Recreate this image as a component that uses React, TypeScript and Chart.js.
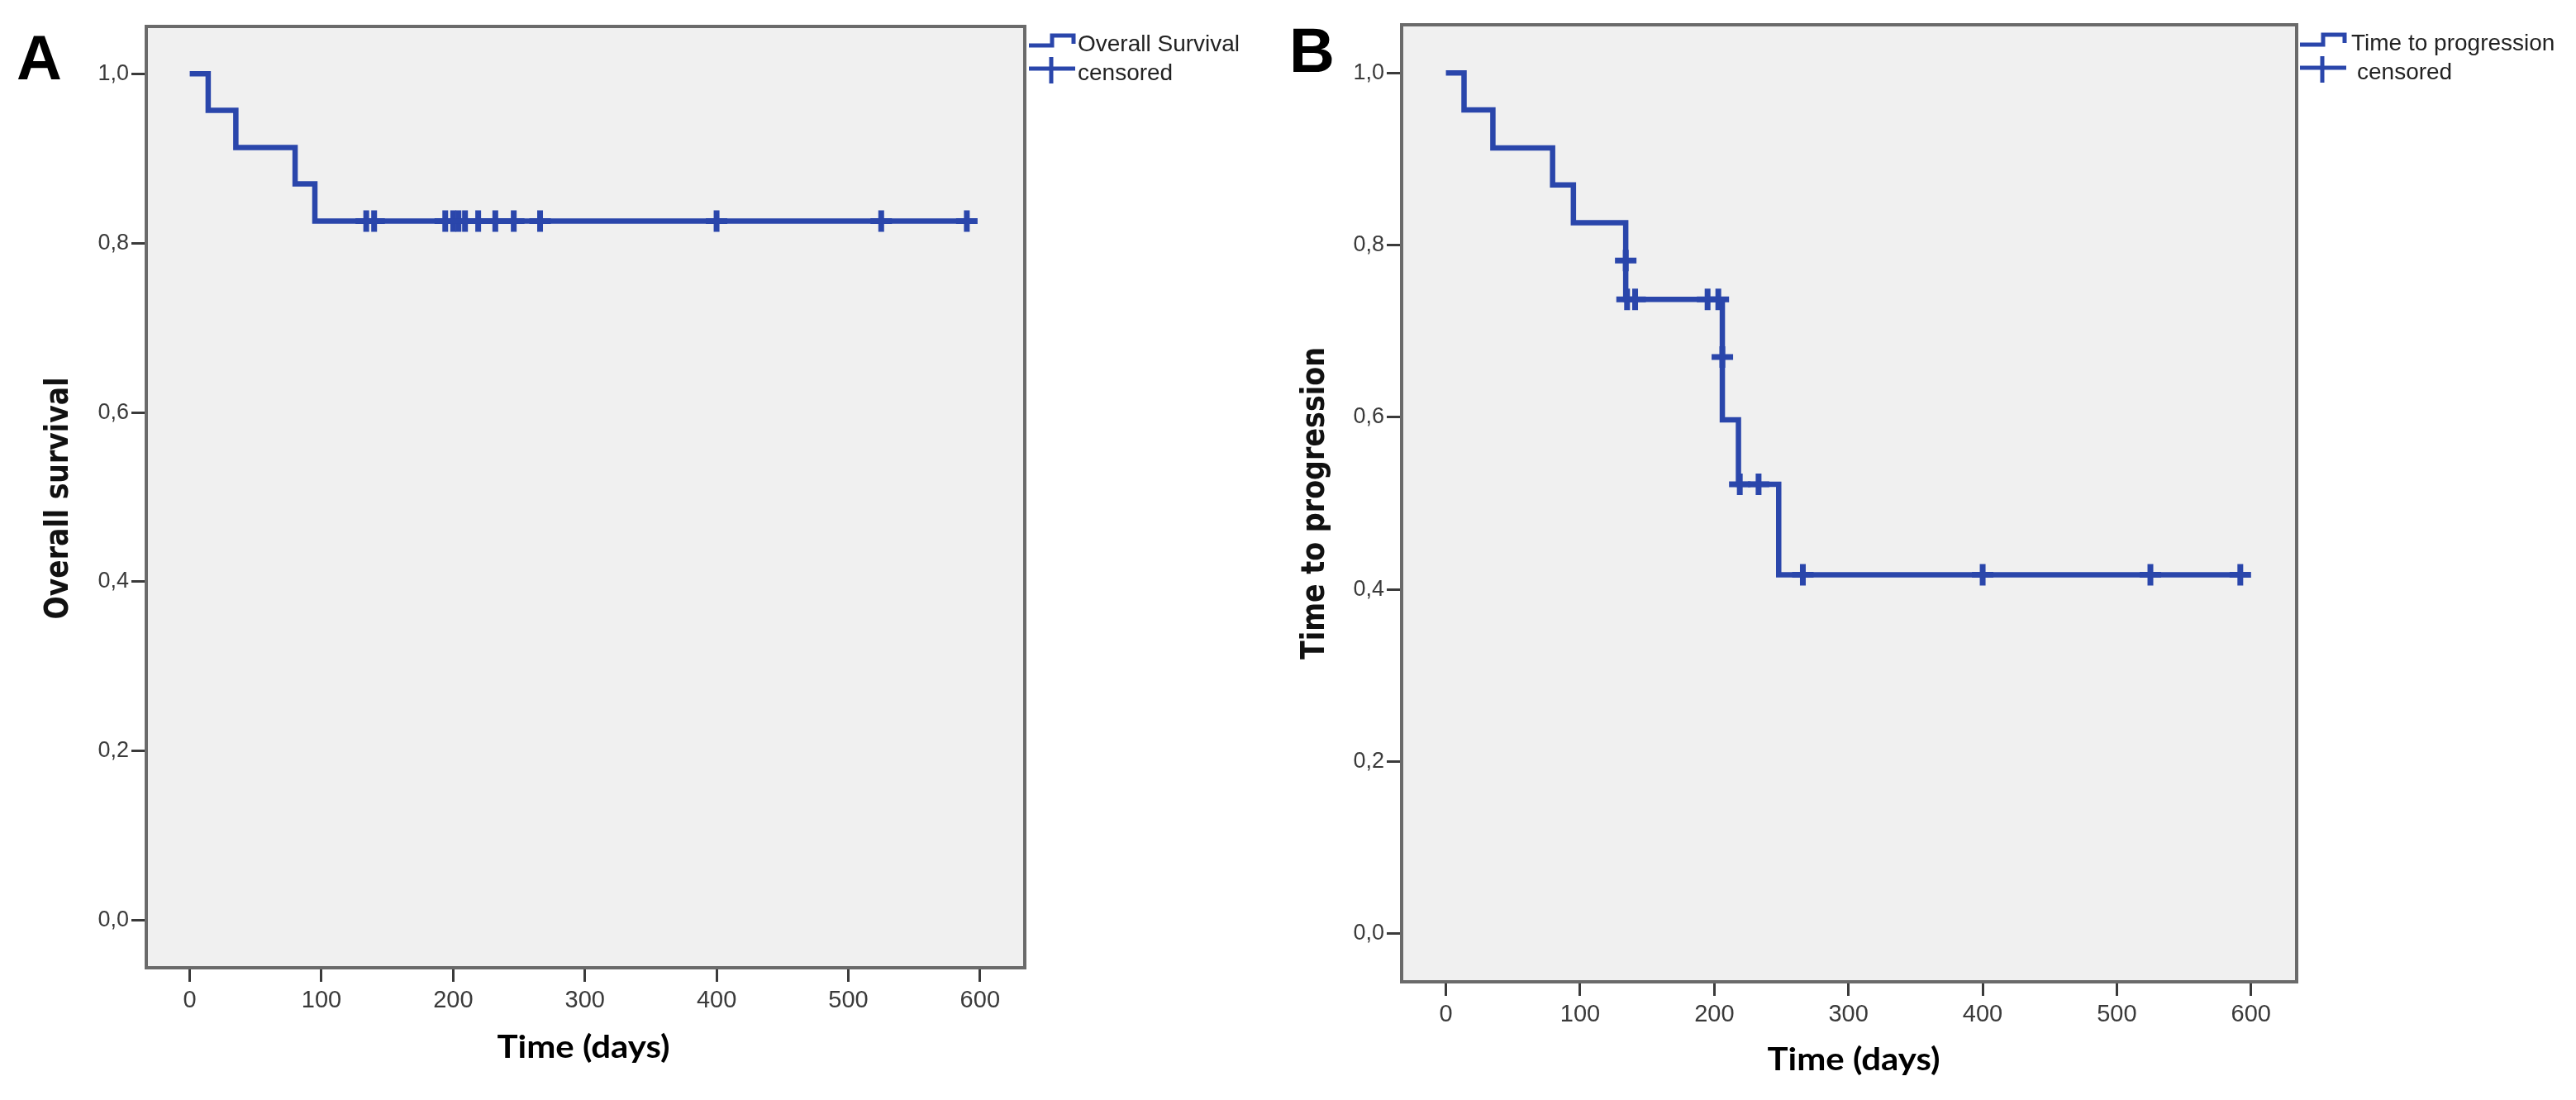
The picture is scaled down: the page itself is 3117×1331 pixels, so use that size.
import React, { useEffect, useRef } from 'react';
import { Chart, registerables } from 'chart.js';

Chart.register(...registerables);

// ---- shared axis definitions ----
const xTicks = [0, 100, 200, 300, 400, 500, 600];
const yTicks = [0, 0.2, 0.4, 0.6, 0.8, 1.0];
const yTickLabels = ['0,0', '0,2', '0,4', '0,6', '0,8', '1,0'];

// ---- Panel A: Overall survival ----
const osTimes = [0, 14, 35, 80, 95, 590];
const osSurvival = [1.0, 0.957, 0.913, 0.87, 0.826, 0.826];
const osCensoredTimes = [134, 140, 194, 200, 204, 209, 219, 232, 246, 266, 400, 525, 590];
const osCensoredSurvival = [0.826, 0.826, 0.826, 0.826, 0.826, 0.826, 0.826, 0.826, 0.826, 0.826, 0.826, 0.826, 0.826];

// ---- Panel B: Time to progression ----
const ttpTimes = [0, 13.5, 35, 79.5, 95, 134, 134, 206, 206, 218, 248, 592];
const ttpSurvival = [1.0, 0.957, 0.913, 0.87, 0.826, 0.782, 0.737, 0.67, 0.597, 0.522, 0.417, 0.417];
const ttpCensoredTimes = [134, 135, 141, 195, 203, 206, 219, 233, 266, 400, 525, 592];
const ttpCensoredSurvival = [0.782, 0.737, 0.737, 0.737, 0.737, 0.67, 0.522, 0.522, 0.417, 0.417, 0.417, 0.417];

const BLUE = '#2a46ab';
const W = 3117;
const H = 1331;

type PanelProps = {
  offsetX: number;
  width: number;
  area: { left: number; right: number; top: number; bottom: number };
  letter: string;
  letterX: number;
  letterBase: number;
  yTitle: string;
  yTitleX: number;
  yTitleY: number;
  yTitleLen: number;
  xTitle: string;
  xTitleX: number;
  xTitleBase: number;
  legendX: number;
  legendText1: string;
  legendText1X: number;
  legendText2X: number;
  legendTop: number;
  times: number[];
  surv: number[];
  cTimes: number[];
  cSurv: number[];
};

function Panel(p: PanelProps) {
  const ref = useRef<HTMLCanvasElement | null>(null);
  useEffect(() => {
    if (!ref.current) return;
    const a = p.area;
    const deco = {
      id: 'deco',
      beforeDraw(chart: any) {
        const { ctx, chartArea } = chart;
        ctx.save();
        ctx.fillStyle = '#ffffff';
        ctx.fillRect(0, 0, chart.width, chart.height);
        ctx.fillStyle = '#f0f0f0';
        ctx.fillRect(chartArea.left, chartArea.top, chartArea.right - chartArea.left, chartArea.bottom - chartArea.top);
        ctx.restore();
      },
      afterDraw(chart: any) {
        const { ctx, chartArea } = chart;
        ctx.save();
        // frame
        ctx.strokeStyle = '#6a6a6a';
        ctx.lineWidth = 4;
        ctx.strokeRect(chartArea.left, chartArea.top, chartArea.right - chartArea.left, chartArea.bottom - chartArea.top);

        // panel letter
        ctx.fillStyle = '#000000';
        ctx.font = 'bold 76px "Liberation Sans", Arial, sans-serif';
        ctx.textAlign = 'left';
        ctx.textBaseline = 'alphabetic';
        ctx.fillText(p.letter, p.letterX, p.letterBase);

        // y title (rotated, stretched)
        ctx.save();
        ctx.font = 'bold 33px "DejaVu Sans", Verdana, sans-serif';
        const wy = ctx.measureText(p.yTitle).width;
        ctx.translate(p.yTitleX, p.yTitleY);
        ctx.rotate(-Math.PI / 2);
        ctx.scale(p.yTitleLen / wy, 1.2);
        ctx.textAlign = 'center';
        ctx.textBaseline = 'middle';
        ctx.fillStyle = '#111111';
        ctx.fillText(p.yTitle, 0, 0);
        ctx.restore();

        // x title
        ctx.save();
        ctx.font = 'bold 38px Lato, "Liberation Sans", sans-serif';
        const wx = ctx.measureText(p.xTitle).width;
        ctx.translate(p.xTitleX, p.xTitleBase);
        ctx.scale(209 / wx, 1);
        ctx.textAlign = 'center';
        ctx.textBaseline = 'alphabetic';
        ctx.fillStyle = '#000000';
        ctx.fillText(p.xTitle, 0, 0);
        ctx.restore();

        // legend icons
        const lx = p.legendX;
        const t = p.legendTop;
        ctx.strokeStyle = BLUE;
        ctx.lineWidth = 5;
        ctx.lineCap = 'butt';
        ctx.beginPath();
        ctx.moveTo(lx, t + 14);
        ctx.lineTo(lx + 28, t + 14);
        ctx.lineTo(lx + 28, t + 2);
        ctx.lineTo(lx + 54, t + 2);
        ctx.lineTo(lx + 54, t + 12);
        ctx.stroke();
        ctx.beginPath();
        ctx.moveTo(lx, t + 42);
        ctx.lineTo(lx + 56, t + 42);
        ctx.moveTo(lx + 27, t + 28);
        ctx.lineTo(lx + 27, t + 60);
        ctx.stroke();

        ctx.fillStyle = '#222222';
        ctx.font = '28px "Liberation Sans", Arial, sans-serif';
        ctx.textAlign = 'left';
        ctx.textBaseline = 'alphabetic';
        ctx.fillText(p.legendText1, p.legendText1X, t + 21);
        ctx.fillText('censored', p.legendText2X, t + 56);
        ctx.restore();
      },
    };

    const chart = new Chart(ref.current, {
      type: 'scatter',
      data: {
        datasets: [
          {
            data: p.times.map((x, i) => ({ x, y: p.surv[i] })),
            showLine: true,
            stepped: 'before',
            borderColor: BLUE,
            borderWidth: 6.5,
            pointRadius: 0,
            fill: false,
          } as any,
          {
            data: p.cTimes.map((x, i) => ({ x, y: p.cSurv[i] })),
            showLine: false,
            pointStyle: 'cross',
            pointRadius: 13,
            pointBorderWidth: 7,
            pointBorderColor: BLUE,
            pointBackgroundColor: BLUE,
            borderColor: BLUE,
          } as any,
        ],
      },
      options: {
        animation: false,
        responsive: false,
        devicePixelRatio: 1,
        events: [],
        layout: { padding: { left: 0, top: a.top, right: p.width - a.right, bottom: 0 } },
        plugins: { legend: { display: false }, tooltip: { enabled: false }, title: { display: false } },
        scales: {
          x: {
            type: 'linear',
            min: -33,
            max: 634,
            afterFit: (s: any) => {
              s.height = H - a.bottom;
            },
            afterBuildTicks: (s: any) => {
              s.ticks = xTicks.map((v) => ({ value: v }));
            },
            ticks: {
              autoSkip: false,
              maxRotation: 0,
              padding: 6,
              color: '#3a3a3a',
              font: { family: '"Liberation Sans", Arial, sans-serif', size: 29 },
              callback: (v: any) => String(v),
            },
            grid: { drawOnChartArea: false, drawTicks: true, tickLength: 17, tickWidth: 3, tickColor: '#3a3a3a' },
            border: { display: false },
          },
          y: {
            type: 'linear',
            min: -0.056,
            max: 1.056,
            afterFit: (s: any) => {
              s.width = a.left;
            },
            afterBuildTicks: (s: any) => {
              s.ticks = yTicks.map((v) => ({ value: v }));
            },
            ticks: {
              autoSkip: false,
              padding: 3,
              color: '#3a3a3a',
              font: { family: '"Liberation Sans", Arial, sans-serif', size: 27 },
              callback: (_v: any, i: number) => yTickLabels[i],
            },
            grid: { drawOnChartArea: false, drawTicks: true, tickLength: 18, tickWidth: 3, tickColor: '#3a3a3a' },
            border: { display: false },
          },
        },
      },
      plugins: [deco],
    });
    return () => chart.destroy();
  }, []);
  return (
    <canvas
      ref={ref}
      width={p.width}
      height={H}
      style={{ position: 'absolute', left: p.offsetX, top: 0, width: p.width, height: H }}
    />
  );
}

export default function App() {
  useEffect(() => {
    document.body.style.margin = '0';
    document.body.style.overflow = 'hidden';
  }, []);
  return (
    <div style={{ position: 'absolute', left: 0, top: 0, width: W, height: H, background: '#ffffff', overflow: 'hidden' }}>
      <Panel
        offsetX={0}
        width={1557}
        area={{ left: 177, right: 1240, top: 32, bottom: 1171 }}
        letter="A"
        letterX={20}
        letterBase={96}
        yTitle="Overall survival"
        yTitleX={72}
        yTitleY={603}
        yTitleLen={293}
        xTitle="Time (days)"
        xTitleX={706}
        xTitleBase={1280}
        legendX={1245}
        legendText1="Overall Survival"
        legendText1X={1304}
        legendText2X={1304}
        legendTop={41}
        times={osTimes}
        surv={osSurvival}
        cTimes={osCensoredTimes}
        cSurv={osCensoredSurvival}
      />
      <Panel
        offsetX={1557}
        width={1560}
        area={{ left: 139, right: 1222, top: 30, bottom: 1188 }}
        letter="B"
        letterX={3}
        letterBase={87}
        yTitle="Time to progression"
        yTitleX={35}
        yTitleY={609}
        yTitleLen={378}
        xTitle="Time (days)"
        xTitleX={686}
        xTitleBase={1295}
        legendX={1226}
        legendText1="Time to progression"
        legendText1X={1288}
        legendText2X={1295}
        legendTop={40}
        times={ttpTimes}
        surv={ttpSurvival}
        cTimes={ttpCensoredTimes}
        cSurv={ttpCensoredSurvival}
      />
    </div>
  );
}
